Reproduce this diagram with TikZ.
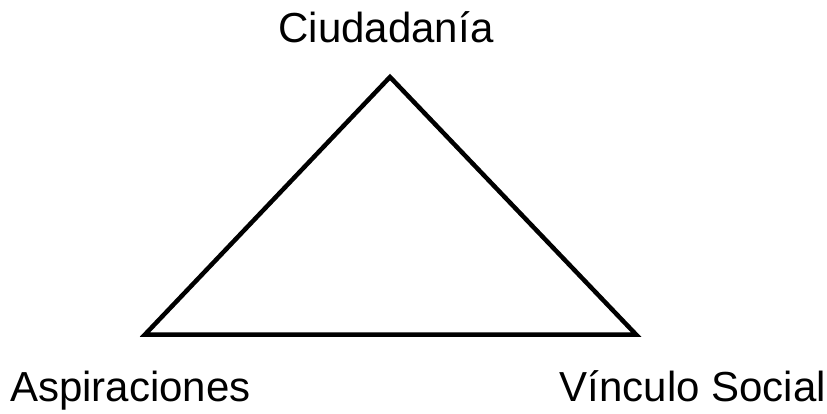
\documentclass[tikz,border=0pt]{standalone}
\usepackage{fontspec}
\setmainfont{Liberation Sans}
\usetikzlibrary{positioning}

\tikzset{
  vertexlabel/.style={inner sep=0pt, font=\fontsize{42}{48}\selectfont},
  side/.style={line width=4.5pt, line join=miter}
}

\begin{document}
\begin{tikzpicture}[x=1pt,y=-1pt]
  \useasboundingbox (0,0) rectangle (827,413);
  % corners of the triangle
  \coordinate (top) at (390,77);
  \coordinate (left) at (145,334.5);
  \coordinate (right) at (636,334.5);
  \draw[side] (top) -- (left) -- (right) -- cycle;
  % labels
  \node[vertexlabel, anchor=base] (ciudadania) at (386,42) {Ciudadanía};
  \node[vertexlabel, anchor=base west] (aspiraciones) at (10,401) {Aspiraciones};
  \node[vertexlabel, anchor=base east] (vinculo) at (826,401) {Vínculo Social};
\end{tikzpicture}
\end{document}
